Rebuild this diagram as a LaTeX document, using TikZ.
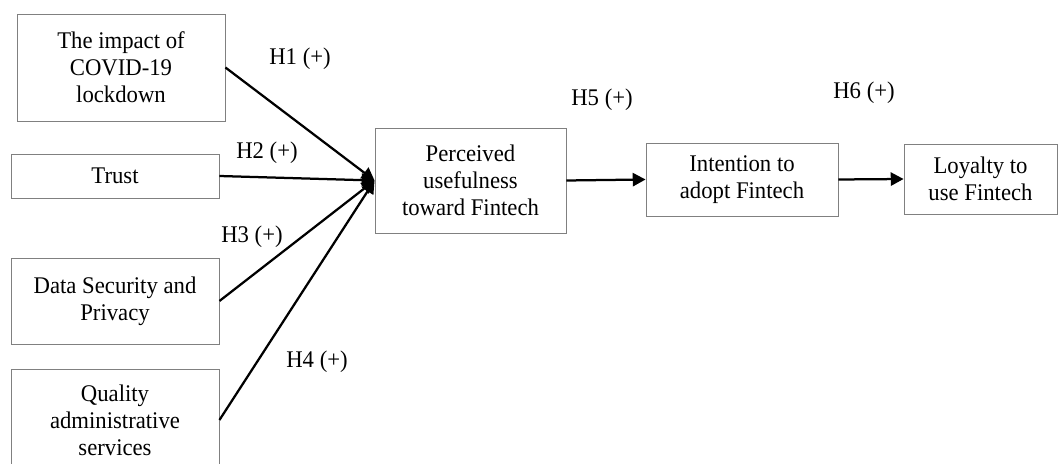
\documentclass[tikz,border=0pt]{standalone}
\usepackage{fontspec}
\setmainfont{Liberation Serif}[FakeStretch=0.95]
\usepackage{tikz}
\usetikzlibrary{arrows.meta}

\tikzset{
  box/.style={draw=black!50, line width=0.6pt, align=center, inner sep=0pt, font=\fontsize{17}{19.2}\selectfont},
  hyp/.style={inner sep=0pt, font=\fontsize{17}{19.2}\selectfont},
  link/.style={line width=1.6pt, -{Triangle[length=0.32cm,width=0.33cm]}}
}

\begin{document}
\begin{tikzpicture}[x=0.025cm, y=-0.025cm]
    \useasboundingbox (0,0) rectangle (1058,464);

    % Factors
    \node[box, minimum width=5.2cm, minimum height=2.675cm] (impact) at (121,67.5) {The impact of\\COVID-19\\lockdown};
    \node[box, minimum width=5.2cm, minimum height=1.1cm] (trust) at (115,176) {Trust};
    \node[box, minimum width=5.2cm, minimum height=2.15cm] (data) at (115,301) {Data Security and\\Privacy};
    \node[box, minimum width=5.2cm, minimum height=2.55cm] (quality) at (115,420) {Quality\\administrative\\services};

    % Chain
    \node[box, minimum width=4.775cm, minimum height=2.625cm] (perceived) at (470.5,180.5) {Perceived\\usefulness\\toward Fintech};
    \node[box, minimum width=4.8cm, minimum height=1.825cm] (intention) at (742,179.5) {Intention to\\adopt Fintech};
    \node[box, minimum width=3.825cm, minimum height=1.75cm] (loyalty) at (980.5,179) {Loyalty to\\use Fintech};

    % Paths
    \foreach \src in {impact, trust, data, quality} \draw[link] (\src.east) -- (perceived.west);
    \draw[link] (perceived.east) -- (intention.west);
    \draw[link] (intention.east) -- (loyalty.west);

    % Hypotheses
    \node[hyp] (h1) at (300,59) {H1 (+)};
    \node[hyp] (h2) at (267,153) {H2 (+)};
    \node[hyp] (h3) at (252,237) {H3 (+)};
    \node[hyp] (h4) at (317,362) {H4 (+)};
    \node[hyp] (h5) at (602,100) {H5 (+)};
    \node[hyp] (h6) at (864,93) {H6 (+)};
\end{tikzpicture}
\end{document}
